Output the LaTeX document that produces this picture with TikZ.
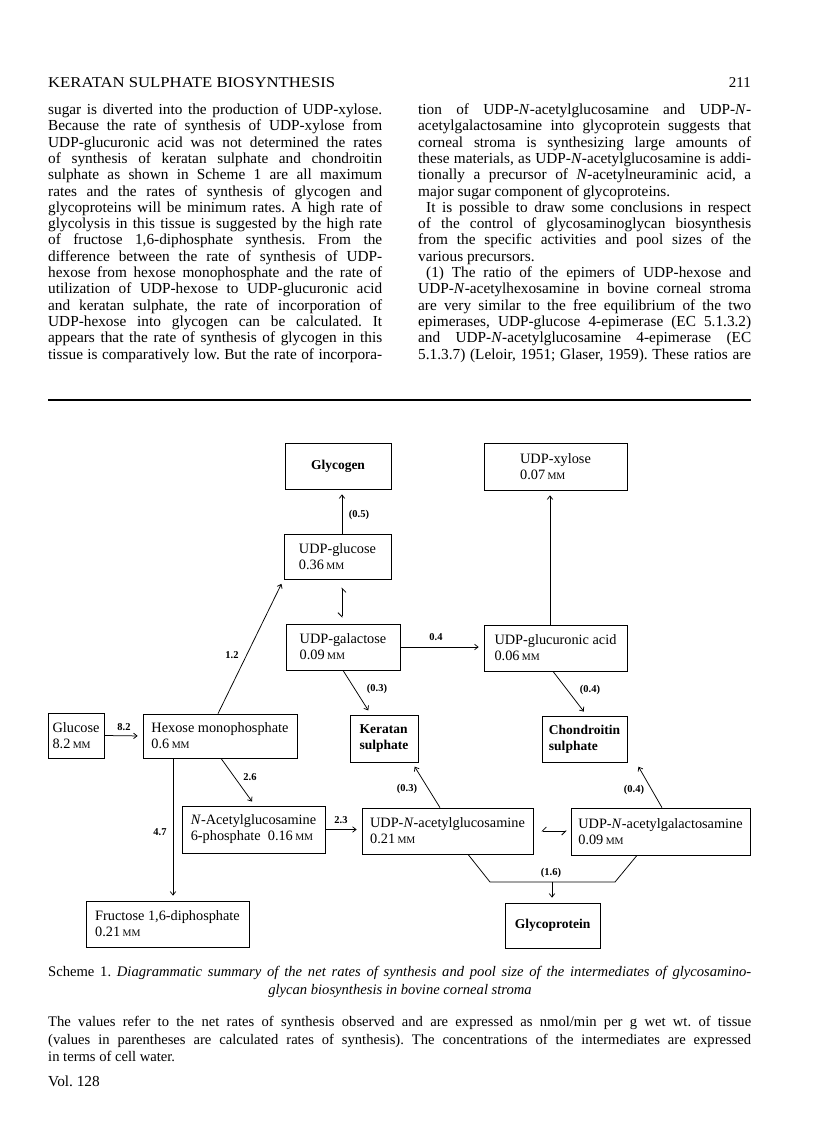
\documentclass[tikz,border=0pt]{standalone}
\usepackage{fontspec}
\setmainfont{Liberation Serif}
\usepackage{graphicx}
\usetikzlibrary{arrows.meta}
\frenchspacing
\newlength\jw
\newcommand\jl[2]{\setlength\jw{#1}\sbox0{#2}\ifdim\wd0>\jw\resizebox{\jw}{\height}{#2}\else\makebox[\jw][s]{#2}\fi}
\newcommand\fitw[2]{\resizebox{#1}{\height}{#2}}
\newcommand\mM{\,{\fontsize{10}{10}\selectfont MM}}
\tikzset{
  bx/.style={draw, line width=0.75pt, inner sep=0pt, align=left, font=\fontsize{14.3}{16}\selectfont},
  bbx/.style={bx, font=\fontsize{13.5}{16}\selectfont\bfseries},
  lab/.style={font=\fontsize{10.5}{12}\selectfont\bfseries, inner sep=0pt},
  arr/.style={line width=0.75pt, -{Straight Barb[length=3.5pt,width=5.5pt]}, shorten >=5pt},
  harp/.style={line width=0.75pt, {Straight Barb[right,length=4pt,width=8pt]}-{Straight Barb[right,length=4pt,width=8pt]}},
  ln/.style={line width=0.75pt},
  body/.style={anchor=base west, inner sep=0pt, font=\fontsize{15.3}{16}\selectfont},
  captxt/.style={anchor=base west, inner sep=0pt, font=\fontsize{14.6}{17}\selectfont},
}
\begin{document}
\begin{tikzpicture}[x=1pt,y=-1pt]
\useasboundingbox (0,0) rectangle (816,1136);
\fill[white] (0,0) rectangle (816,1136);
% header
\node[anchor=base west, inner sep=0pt, font=\fontsize{15}{15}\selectfont] (hdr) at (48,87) {\fitw{287pt}{KERATAN SULPHATE BIOSYNTHESIS}};
\node[anchor=base east, inner sep=0pt, font=\fontsize{15}{15}\selectfont] (pg) at (751,87) {211};
% left column
\node[body] (L1) at (48,114.5) {\jl{334pt}{sugar is diverted into the production of UDP-xylose.}};
\node[body] (L2) at (48,130.8) {\jl{334pt}{Because the rate of synthesis of UDP-xylose from}};
\node[body] (L3) at (48,147.1) {\jl{334pt}{UDP-glucuronic acid was not determined the rates}};
\node[body] (L4) at (48,163.4) {\jl{334pt}{of synthesis of keratan sulphate and chondroitin}};
\node[body] (L5) at (48,179.7) {\jl{334pt}{sulphate as shown in Scheme 1 are all maximum}};
\node[body] (L6) at (48,196.0) {\jl{334pt}{rates and the rates of synthesis of glycogen and}};
\node[body] (L7) at (48,212.3) {\jl{334pt}{glycoproteins will be minimum rates. A high rate of}};
\node[body] (L8) at (48,228.6) {\jl{334pt}{glycolysis in this tissue is suggested by the high rate}};
\node[body] (L9) at (48,244.9) {\jl{334pt}{of fructose 1,6-diphosphate synthesis. From the}};
\node[body] (L10) at (48,261.2) {\jl{334pt}{difference between the rate of synthesis of UDP-}};
\node[body] (L11) at (48,277.5) {\jl{334pt}{hexose from hexose monophosphate and the rate of}};
\node[body] (L12) at (48,293.8) {\jl{334pt}{utilization of UDP-hexose to UDP-glucuronic acid}};
\node[body] (L13) at (48,310.1) {\jl{334pt}{and keratan sulphate, the rate of incorporation of}};
\node[body] (L14) at (48,326.4) {\jl{334pt}{UDP-hexose into glycogen can be calculated. It}};
\node[body] (L15) at (48,342.7) {\jl{334pt}{appears that the rate of synthesis of glycogen in this}};
\node[body] (L16) at (48,359.0) {\jl{334pt}{tissue is comparatively low. But the rate of incorpora-}};
% right column
\node[body] (R1) at (418,114.5) {\jl{333pt}{tion of UDP-\textit{N}-acetylglucosamine and UDP-\textit{N}-}};
\node[body] (R2) at (418,130.8) {\jl{333pt}{acetylgalactosamine into glycoprotein suggests that}};
\node[body] (R3) at (418,147.1) {\jl{333pt}{corneal stroma is synthesizing large amounts of}};
\node[body] (R4) at (418,163.4) {\jl{333pt}{these materials, as UDP-\textit{N}-acetylglucosamine is addi-}};
\node[body] (R5) at (418,179.7) {\jl{333pt}{tionally a precursor of \textit{N}-acetylneuraminic acid, a}};
\node[body] (R6) at (418,196.0) {major sugar component of glycoproteins.};
\node[body] (R7) at (426,212.3) {\jl{325pt}{It is possible to draw some conclusions in respect}};
\node[body] (R8) at (418,228.6) {\jl{333pt}{of the control of glycosaminoglycan biosynthesis}};
\node[body] (R9) at (418,244.9) {\jl{333pt}{from the specific activities and pool sizes of the}};
\node[body] (R10) at (418,261.2) {various precursors.};
\node[body] (R11) at (426,277.5) {\jl{325pt}{(1) The ratio of the epimers of UDP-hexose and}};
\node[body] (R12) at (418,293.8) {\jl{333pt}{UDP-\textit{N}-acetylhexosamine in bovine corneal stroma}};
\node[body] (R13) at (418,310.1) {\jl{333pt}{are very similar to the free equilibrium of the two}};
\node[body] (R14) at (418,326.4) {\jl{333pt}{epimerases, UDP-glucose 4-epimerase (EC 5.1.3.2)}};
\node[body] (R15) at (418,342.7) {\jl{333pt}{and UDP-\textit{N}-acetylglucosamine 4-epimerase (EC}};
\node[body] (R16) at (418,359.0) {\jl{333pt}{5.1.3.7) (Leloir, 1951; Glaser, 1959). These ratios are}};
% rule
\draw[line width=1.6pt] (48,400) coordinate (ruleA) -- (751,400) coordinate (ruleB);
% diagram boxes
\node[bbx, minimum width=106pt, minimum height=46pt] (glycogen) at (338,466) {Glycogen};
\node[bx, minimum width=143pt, minimum height=47pt] (xylose) at (555.5,466.5) {UDP-xylose\\0.07\mM};
\node[bx, minimum width=107pt, minimum height=45pt] (udpglc) at (337.5,556.5) {UDP-glucose\\0.36\mM};
\node[bx, minimum width=114pt, minimum height=46pt] (udpgal) at (343,647) {UDP-galactose\\0.09\mM};
\node[bx, minimum width=143pt, minimum height=46pt] (glcua) at (555.5,648) {UDP-glucuronic acid\\0.06\mM};
\node[bx, minimum width=56pt, minimum height=45pt] (glucose) at (76,735.5) {Glucose\\8.2\mM};
\node[bx, minimum width=154pt, minimum height=44pt] (hexose) at (220,736) {Hexose monophosphate\\0.6\mM};
\node[bbx, minimum width=68pt, minimum height=47pt] (keratan) at (384,738.5) {Keratan\\sulphate};
\node[bbx, minimum width=85pt, minimum height=46pt] (chond) at (584.5,739) {Chondroitin\\sulphate};
\node[bx, minimum width=143pt, minimum height=47pt] (nac6p) at (253.5,829.5) {\textit{N}-Acetylglucosamine\\6-phosphate\ \ 0.16\mM};
\node[bx, minimum width=171pt, minimum height=46pt] (udpglcnac) at (447.5,831) {UDP-\textit{N}-acetylglucosamine\\0.21\mM};
\node[bx, minimum width=179pt, minimum height=47pt] (udpgalnac) at (660.5,831.5) {UDP-\textit{N}-acetylgalactosamine\\0.09\mM};
\node[bbx, minimum width=95pt, minimum height=45pt] (glycoprot) at (552.5,925.5) {Glycoprotein};
\node[bx, minimum width=163pt, minimum height=46pt] (fructose) at (167.5,924) {Fructose 1,6-diphosphate\\0.21\mM};
% connectors
\draw[arr] (342,0 |- udpglc.north) -- (342,0 |- glycogen.south);
\node[lab] (l05) at (359,515) {(0.5)};
\draw[arr] (550,0 |- glcua.north) -- (550,0 |- xylose.south);
\draw[arr] (218,0 |- hexose.north) -- (udpglc.south west);
\node[lab] (l12) at (232,655) {1.2};
\draw[harp, shorten <=8pt, shorten >=6pt] (342,0 |- udpglc.south) -- (342,0 |- udpgal.north);
\draw[arr] (udpgal.east) -- (udpgal.east -| glcua.west);
\node[lab] (l04a) at (436,637) {0.4};
\draw[arr] (343,0 |- udpgal.south) -- (371,0 |- keratan.north);
\node[lab] (l03a) at (377,689) {(0.3)};
\draw[arr] (553,0 |- glcua.south) -- (587,0 |- chond.north);
\node[lab] (l04b) at (590,690) {(0.4)};
\draw[arr] (glucose.east) -- (hexose.west);
\node[lab] (l82) at (124,727) {8.2};
\draw[arr] (221,0 |- hexose.south) -- (255,0 |- nac6p.north);
\node[lab] (l26) at (250,777) {2.6};
\draw[arr] (173,0 |- hexose.south) -- (173,0 |- fructose.north);
\node[lab] (l47) at (160,832) {4.7};
\draw[arr] (nac6p.east) -- (nac6p.east -| udpglcnac.west);
\node[lab] (l23) at (341,820) {2.3};
\draw[arr] (440,0 |- udpglcnac.north) -- (412,0 |- keratan.south);
\node[lab] (l03b) at (407,789) {(0.3)};
\draw[harp, shorten <=8pt, shorten >=4pt] (udpglcnac.east) -- (udpglcnac.east -| udpgalnac.west);
\draw[arr] (662,0 |- udpgalnac.north) -- (636,0 |- chond.south);
\node[lab] (l04c) at (634,790) {(0.4)};
\coordinate (mg) at (552,882);
\draw[ln] (468,0 |- udpglcnac.south) -- (490,882) -- (615,882) -- (637,0 |- udpgalnac.south);
\draw[arr] (mg) -- (552,0 |- glycoprot.north);
\node[lab] (l16) at (551,873) {(1.6)};
% caption
\node[captxt] (c1) at (48,976) {\jl{703pt}{Scheme 1. \textit{Diagrammatic summary of the net rates of synthesis and pool size of the intermediates of glycosamino-}}};
\node[anchor=base, inner sep=0pt, font=\fontsize{14.6}{17}\selectfont] (c2) at (400,994) {\textit{glycan biosynthesis in bovine corneal stroma}};
\node[captxt] (n1) at (48,1026) {\jl{703pt}{The values refer to the net rates of synthesis observed and are expressed as nmol/min per g wet wt. of tissue}};
\node[captxt] (n2) at (48,1044) {\jl{703pt}{(values in parentheses are calculated rates of synthesis). The concentrations of the intermediates are expressed}};
\node[captxt] (n3) at (48,1061) {in terms of cell water.};
\node[body] (vol) at (48,1086) {Vol. 128};
\end{tikzpicture}
\end{document}
